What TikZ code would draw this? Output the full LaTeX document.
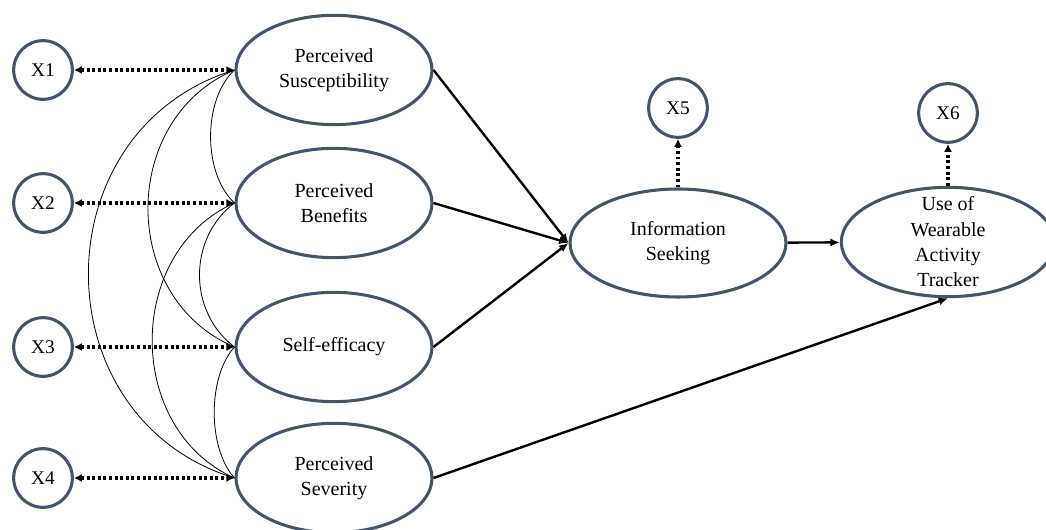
\documentclass[tikz,border=0pt]{standalone}
\usepackage{fontspec}
\setmainfont{Liberation Serif}
\usepackage{tikz}
\usetikzlibrary{shapes.geometric,positioning,arrows.meta}
\definecolor{slate}{RGB}{68,84,106}

\begin{document}
\begin{tikzpicture}[x=0.75pt,y=-0.75pt]
		\tikzstyle{latent}=[ellipse, draw=slate, line width=2.3pt, inner sep=0pt, minimum width=147pt, minimum height=82pt, align=center, font=\fontsize{15}{19}\selectfont]
		\tikzstyle{item}=[circle, draw=slate, line width=2.3pt, minimum size=44pt, inner sep=0pt, font=\fontsize{14.5}{16}\selectfont]
		\tikzstyle{connect}=[-{Latex[length=7pt,width=6pt]}, line width=1.8pt]
		\tikzstyle{load}=[{Latex[length=6pt,width=6pt]}-{Latex[length=6pt,width=6pt]}, line width=2.4pt, dash pattern=on 2.2pt off 2pt]
		\tikzstyle{corr}=[line width=0.6pt]
		\useasboundingbox (0,0) rectangle (1046,530);
		\clip (0,0) rectangle (1046,530);
		
		\node[latent] (sus) at (334,70) {Perceived\\Susceptibility};
		\node[latent] (ben) at (334,203) {Perceived\\Benefits};
		\node[latent] (eff) at (334,347) {Self-efficacy};
		\node[latent] (sev) at (334,478) {Perceived\\Severity};
		
		\node[latent, minimum width=162pt, minimum height=81pt] (info) at (678,243) {Information\\Seeking};
		\node[latent, minimum width=160pt, minimum height=82pt, inner ysep=-14pt] (use) at (948,242) {Use of\\Wearable\\Activity\\Tracker};
		
		\node[item] (x1) at (43,70) {X1};
		\node[item] (x2) at (43,203) {X2};
		\node[item] (x3) at (43,347) {X3};
		\node[item] (x4) at (43,478) {X4};
		\node[item] (x5) at (678,108) {X5};
		\node[item] (x6) at (948,113) {X6};
		
		\path (x1) edge [load] (sus);
		\path (x2) edge [load] (ben);
		\path (x3) edge [load] (eff);
		\path (x4) edge [load] (sev);
		
		\path (info) edge [load, -{Latex[length=6pt,width=6pt]}] (x5);
		\path (use) edge [load, -{Latex[length=6pt,width=6pt]}] (x6);
		
		\path (sus.east) edge [connect] (info.west);
		\path (ben.east) edge [connect] (info.west);
		\path (eff.east) edge [connect] (info.west);
		\path (info) edge [connect] (use);
		\path (sev.east) edge [connect] (use.south);
		
		% covariances
		\path (sus.west) edge [corr, out=223, in=137, looseness=0.84] (ben.west);
		\path (sus.west) edge [corr, out=203, in=157, looseness=1.16] (eff.west);
		\path (sus.west) edge [corr, out=197, in=163, looseness=1.28] (sev.west);
		\path (ben.west) edge [corr, out=217, in=143, looseness=1.04] (eff.west);
		\path (ben.west) edge [corr, out=204, in=156, looseness=1.12] (sev.west);
		\path (eff.west) edge [corr, out=228, in=132, looseness=0.79] (sev.west);
		
	\end{tikzpicture}
\end{document}
